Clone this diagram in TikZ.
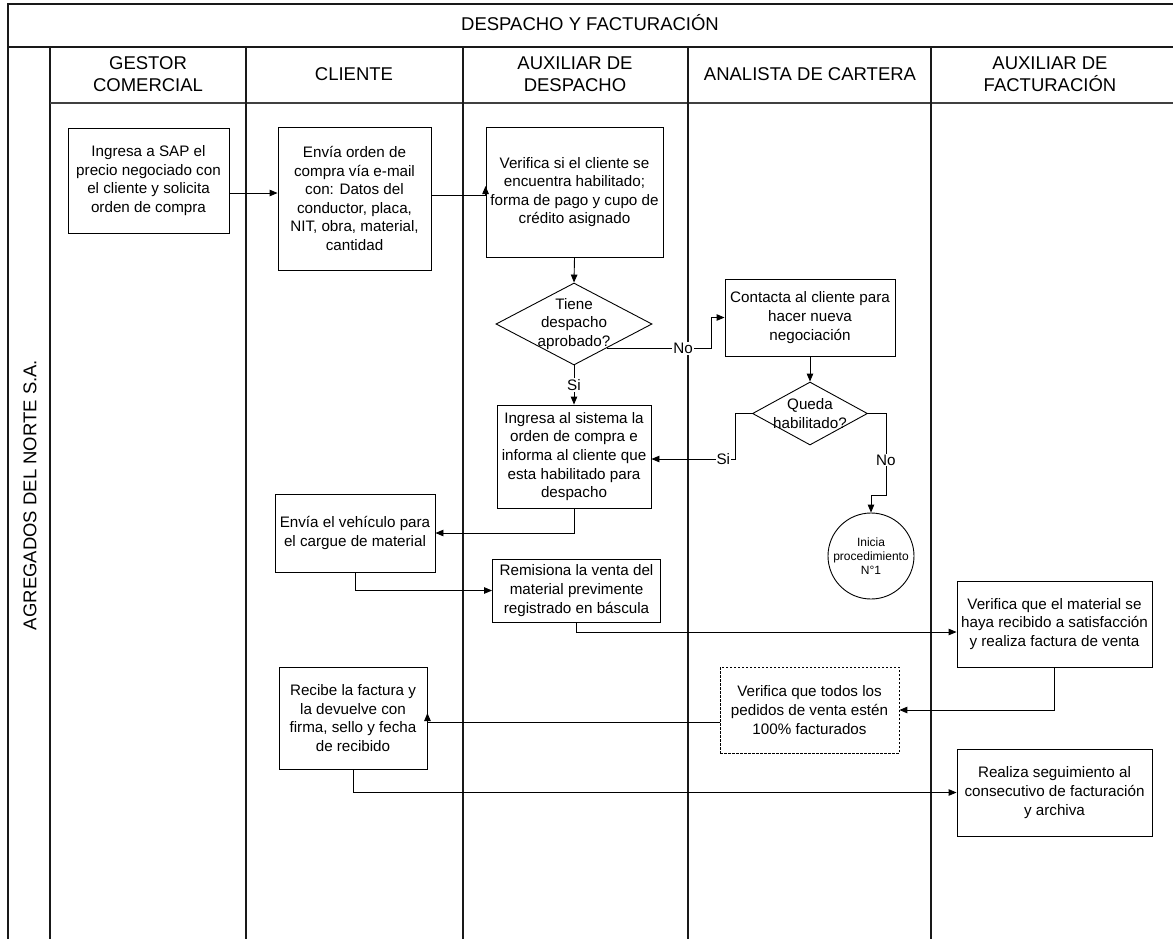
\documentclass[tikz,border=0pt]{standalone}
\usepackage{fontspec}
\setmainfont{Liberation Sans}
\usetikzlibrary{arrows.meta,calc,shapes.geometric}

\begin{document}
\begin{tikzpicture}[x=1pt,y=-1pt,
  frame/.style={line width=1.5pt, draw=black!90},
  thin frame/.style={line width=1.1pt, draw=black!75},
  head/.style={align=center, font=\fontsize{18.5}{22}\selectfont},
  box/.style={draw, line width=0.9pt, align=center, inner sep=1pt,
    font=\fontsize{15.2}{18.6}\selectfont},
  dbox/.style={box, dash pattern=on 2.5pt off 1.5pt, line width=0.8pt},
  dia/.style={draw, diamond, line width=0.9pt, inner sep=0pt},
  diatext/.style={align=center, inner sep=0pt, font=\fontsize{15.2}{18.5}\selectfont},
  endc/.style={draw, circle, line width=0.9pt, inner sep=0pt, minimum size=86pt,
    align=center, font=\fontsize{12}{14}\selectfont},
  lbl/.style={fill=white, inner sep=1pt, font=\fontsize{15.2}{18}\selectfont},
  arr/.style={-{Triangle[length=8pt,width=6.5pt]}, line width=0.9pt},
]
\useasboundingbox (0,0) rectangle (1173,938);

% pool frame and swimlanes
\draw[frame] (8,940) -- (8,4) -- (1180,4);
\draw[frame] (8,47) -- (1180,47);
\draw[frame] (50,47) -- (50,940);
\draw[thin frame] (50,103) -- (1180,103);
\foreach \x in {246,463,688,931}
  \draw[frame] (\x,47) -- (\x,940);

\node[head] (title) at (590,23) {DESPACHO Y FACTURACIÓN};
\node[head, rotate=90] (pool) at (30,495) {AGREGADOS DEL NORTE S.A.};
\node[head] (h1) at (148,74) {GESTOR\\COMERCIAL};
\node[head] (h2) at (354,74) {CLIENTE};
\node[head] (h3) at (575,74) {AUXILIAR DE\\DESPACHO};
\node[head] (h4) at (810,74) {ANALISTA DE CARTERA};
\node[head] (h5) at (1050,74) {AUXILIAR DE\\FACTURACIÓN};

% process steps
\node[box, minimum width=161pt, minimum height=105pt] (b1) at (148.5,180.5)
  {Ingresa a SAP el\\precio negociado con\\el cliente y solicita\\orden de compra};
\node[box, minimum width=153pt, minimum height=143pt] (b2) at (354.5,198.5)
  {Envía orden de\\compra vía e-mail\\con: Datos del\\conductor, placa,\\NIT, obra, material,\\cantidad};
\node[box, minimum width=177pt, minimum height=130pt] (b3) at (574.5,192)
  {Verifica si el cliente se\\encuentra habilitado;\\forma de pago y cupo de\\crédito asignado};
\node[dia, minimum width=156pt, minimum height=82pt] (d1) at (574,324) {};
\node[diatext] (d1t) at (d1.center) {Tiene\\despacho\\aprobado?};
\node[box, minimum width=170pt, minimum height=77pt] (b4) at (810,317.5)
  {Contacta al cliente para\\hacer nueva\\negociación};
\node[dia, minimum width=115pt, minimum height=63pt] (d2) at (810,413.5) {};
\node[diatext] (d2t) at (d2.center) {Queda\\habilitado?};
\node[box, minimum width=154pt, minimum height=103pt] (b5) at (574,456.5)
  {Ingresa al sistema la\\orden de compra e\\informa al cliente que\\esta habilitado para\\despacho};
\node[endc] (c1) at (871,556) {Inicia\\procedimiento\\N°1};
\node[box, minimum width=160pt, minimum height=78pt] (b6) at (355,533)
  {Envía el vehículo para\\el cargue de material};
\node[box, minimum width=168pt, minimum height=63pt] (b7) at (576.5,590.5)
  {Remisiona la venta del\\material previmente\\registrado en báscula};
\node[box, minimum width=195pt, minimum height=86pt] (b8) at (1054.5,624)
  {Verifica que el material se\\haya recibido a satisfacción\\y realiza factura de venta};
\node[dbox, minimum width=179pt, minimum height=86pt] (b9) at (809.5,710)
  {Verifica que todos los\\pedidos de venta estén\\100\% facturados};
\node[box, minimum width=148pt, minimum height=102pt] (b10) at (353,718)
  {Recibe la factura y\\la devuelve con\\firma, sello y fecha\\de recibido};
\node[box, minimum width=195pt, minimum height=87pt] (b11) at (1054.5,792.5)
  {Realiza seguimiento al\\consecutivo de facturación\\y archiva};

% connectors
\draw[arr] (b1.east |- 0,193) -- (b2.west |- 0,193);
\draw[arr] (b2.east |- 0,195) -- (b3.west |- 0,195) -- ++(0,-9);
\draw[arr] (b3.south) -- (d1.north);
\draw[arr] ($(d1.east)!0.585!(d1.south)$) -- node[lbl,pos=0.73]{No} ++(105,0) |- (b4.west);
\draw[arr] (b4.south) -- (d2.north);
\draw[arr] (d2.west) -- ++(-17,0) |- node[lbl,pos=0.57]{Si} (b5.east |- 0,459);
\draw[arr] (d2.east) -- ++(18,0) -- node[lbl,pos=0.57]{No} ++(0,81.5) -| (c1.north);
\draw[arr] (d1.south) -- node[lbl]{Si} (b5.north);
\draw[arr] (b5.south) |- (b6.east);
\draw[arr] (b6.south) |- (b7.west);
\draw[arr] (b7.south) |- (b8.west |- 0,632);
\draw[arr] (b8.south) |- (b9.east);
\draw[arr] (b9.west |- 0,722) -- (b10.east |- 0,722) -- ++(0,-9);
\draw[arr] (b10.south) |- (b11.west);
\end{tikzpicture}
\end{document}
